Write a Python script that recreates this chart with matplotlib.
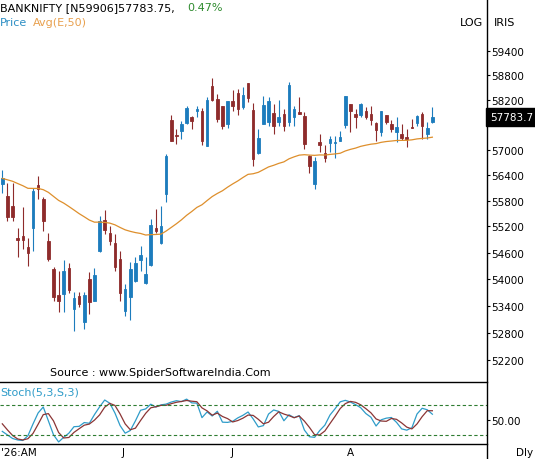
import numpy as np
import matplotlib
matplotlib.use("Agg")
import matplotlib.pyplot as plt
from matplotlib import transforms
from matplotlib.lines import Line2D
from matplotlib.ticker import FixedLocator, NullLocator, FuncFormatter

# ---------------- data ----------------
opens = [56190, 55915, 55680, 54940, 54985, 54720, 55160, 56165, 55835, 54860,
         54230, 53645, 53665, 54250, 53315, 53605, 53045, 54005, 53515, 54640,
         55350, 55040, 54820, 54455, 53275, 53585, 53945, 54440, 53905, 54305,
         55160, 54810, 55955, 57715, 57360, 57455, 57635, 57795, 57935, 57935,
         57095, 58545, 58220, 58045, 57615, 58165, 58365, 58020, 58610, 57955,
         56915, 57615, 57660, 57880, 57660, 57860, 57670, 57780, 57900, 57815,
         56840, 56190, 57175, 56920, 57150, 57150, 57215, 57600, 58095, 57860,
         57840, 57925, 57860, 57640, 57415, 57830, 57615, 57430, 57375, 57310,
         57535, 57635, 57860, 57375, 57660]
highs = [56520, 56205, 56215, 55165, 55655, 54935, 56095, 56370, 55875, 55050,
         54265, 54170, 54430, 54365, 53705, 53705, 53705, 54155, 54250, 55450,
         55580, 55220, 55025, 54640, 53890, 54380, 54490, 54755, 54490, 55375,
         55605, 55665, 56895, 57835, 57495, 57695, 58060, 57815, 58045, 57995,
         58260, 58735, 58340, 58060, 58180, 58445, 58465, 58505, 58615, 58125,
         57495, 58285, 58260, 58100, 58200, 57980, 58645, 58060, 58260, 57900,
         56875, 56820, 57375, 57110, 57335, 57335, 57455, 58305, 58100, 57980,
         58125, 58020, 58060, 57660, 57940, 57835, 57715, 57780, 57615, 57495,
         57735, 57835, 57900, 57660, 58020]
lows = [55980, 55320, 55335, 54490, 54680, 54290, 54640, 55835, 55100, 54415,
        53515, 53255, 53255, 53690, 52840, 53365, 52880, 53215, 53500, 54620,
        55025, 54770, 54175, 53515, 53180, 53090, 53930, 54190, 53890, 54290,
        55050, 54800, 55770, 57200, 57135, 57255, 57620, 57495, 57780, 57110,
        57090, 58165, 57670, 57495, 57520, 57935, 57840, 57980, 58140, 56605,
        56900, 57610, 57575, 57375, 57575, 57455, 57575, 57575, 57850, 57015,
        56450, 56070, 56935, 56715, 56950, 56795, 57210, 57515, 57415, 57515,
        57780, 57735, 57595, 57215, 57335, 57615, 57430, 57175, 57240, 57055,
        57510, 57575, 57255, 57255, 57650]
closes = [56325, 55425, 55425, 54895, 54895, 54580, 56030, 56070, 55335, 54455,
          53590, 53495, 54190, 53740, 53575, 53440, 53630, 53480, 54100, 55335,
          55120, 54870, 54280, 53690, 53765, 54230, 54365, 54545, 54115, 55235,
          55095, 55220, 56840, 57215, 57320, 57615, 58000, 57695, 57980, 57215,
          58195, 58195, 57735, 57575, 58175, 58060, 57980, 58315, 58235, 56780,
          57280, 58075, 58165, 57575, 57795, 57575, 58560, 57980, 57860, 57135,
          56620, 56740, 57120, 56795, 57255, 57190, 57310, 58300, 57935, 57780,
          58100, 57780, 57720, 57480, 57925, 57660, 57495, 57550, 57280, 57255,
          57515, 57800, 57560, 57515, 57783.75]

ema_period = 50
ema_seed = 56320                      # EMA level at the left edge of the chart
stoch_k_warmup = [27, 20, 13, 10, 9]  # first %K values (need bars before the chart)
stoch_d_warmup = [42, 30, 19, 12, 10]

price_ticks = [59400, 58800, 58200, 57000, 56400, 55800, 55200, 54600,
               54000, 53400, 52800, 52200]
month_labels = ["J", "J", "A"]
month_pos = [23.6, 44.8, 68.1]
first_label = "'26:AM"

# ---------------- derived series ----------------
o = np.array(opens, float); h = np.array(highs, float)
l = np.array(lows, float); c = np.array(closes, float)
n = len(c)
idx = np.arange(n)

alpha = 2.0 / (ema_period + 1)
ema = np.empty(n)
prev = ema_seed
for i in range(n):
    prev = prev + alpha * (c[i] - prev)
    ema[i] = prev

fastk = np.empty(n)
for i in range(n):
    lo = l[max(0, i - 4):i + 1].min(); hi = h[max(0, i - 4):i + 1].max()
    fastk[i] = 100 * (c[i] - lo) / (hi - lo) if hi > lo else 50
slowk = np.array([fastk[max(0, i - 2):i + 1].mean() for i in range(n)])
slowk[:len(stoch_k_warmup)] = stoch_k_warmup
slowd = np.array([slowk[max(0, i - 2):i + 1].mean() for i in range(n)])
slowd[:len(stoch_d_warmup)] = stoch_d_warmup

# ---------------- figure ----------------
W, H = 535, 460
fig = plt.figure(figsize=(W / 100, H / 100), dpi=100)
fig.patch.set_facecolor("white")

def fx(px):
    return px / W

def fy(py):
    return 1 - py / H

AX_R = 487
MAIN_B = 382.5
ST_B = 445

ax = fig.add_axes([0, fy(MAIN_B), fx(AX_R), MAIN_B / H])
sx = fig.add_axes([0, fy(ST_B), fx(AX_R), (ST_B - MAIN_B) / H])

BLUE = "#1c7cbd"
RED = "#8e2b2b"
ORANGE = "#de8f2c"

cols = [BLUE if c[i] >= o[i] else RED for i in range(n)]
ax.vlines(idx, l, h, colors=cols, lw=0.8, zorder=2)
ax.bar(idx, np.abs(c - o), bottom=np.minimum(o, c), width=0.5,
       color=cols, edgecolor=cols, linewidth=0.6, zorder=3)
ax.plot(idx, ema, color=ORANGE, lw=0.9, zorder=4)

xlim = (-0.45, 94.67)
ax.set_xlim(*xlim)
ax.set_yscale("log")
ax.set_ylim(51733, 60706)
ax.yaxis.set_major_locator(FixedLocator(price_ticks))
ax.yaxis.set_minor_locator(NullLocator())
ax.yaxis.set_major_formatter(FuncFormatter(lambda v, p: f"{v:.0f}"))
ax.yaxis.tick_right()
ax.tick_params(axis="y", direction="out", length=2.5, width=0.8, pad=0.8,
               labelsize=7.5, colors="black")
ax.set_xticks([])
for s in ax.spines.values():
    s.set_visible(False)

# last price box (the reference shows the value cut to 7 characters)
off = transforms.ScaledTranslation(3.2 / 100, 0, fig.dpi_scale_trans)
tr = transforms.blended_transform_factory(ax.transAxes, ax.transData) + off
ax.text(1.0, c[-1], f"{c[-1]:.2f}"[:7], transform=tr, ha="left", va="center",
        color="white", fontsize=7.5, clip_on=False, zorder=10,
        bbox=dict(boxstyle="square,pad=0.36", fc="black", ec="black"))

# stochastic panel
sx.plot(idx, slowk, color="#2f9cc9", lw=0.9)
sx.plot(idx, slowd, color="#8b3535", lw=0.9)
for lvl in (80, 20):
    sx.axhline(lvl, color="#2f7d32", lw=0.8, dashes=(3, 2.2))
sx.set_xlim(*xlim)
sx.set_ylim(2, 126)
sx.yaxis.tick_right()
sx.set_yticks([50])
sx.set_yticklabels(["50.00"])
sx.tick_params(axis="y", direction="out", length=2.5, width=0.8, pad=0.8,
               labelsize=7.5)
sx.set_xticks(month_pos)
sx.set_xticklabels(month_labels)
sx.tick_params(axis="x", length=0, pad=2.5, labelsize=7.5)
for k in ("left", "right"):
    sx.spines[k].set_visible(False)
for k in ("top", "bottom"):
    sx.spines[k].set_color("black")
    sx.spines[k].set_linewidth(1.0)
sx.set_facecolor("none")

# separator line on the right of the plot area
fig.add_artist(Line2D([fx(AX_R), fx(AX_R)], [0, 1], color="black", lw=1.0,
                      transform=fig.transFigure))

# texts
pct = (c[-1] / c[-2] - 1) * 100
fig.text(fx(0), fy(8), f"BANKNIFTY [N59906]{c[-1]:.2f},", fontsize=8,
         va="center", ha="left", color="black")
fig.text(fx(187), fy(8), f"{pct:.2f}%", fontsize=8, va="center", ha="left",
         color="#2e8b2e")
fig.text(fx(0), fy(23.5), "Price", fontsize=8, va="center", color="#2c8ec4")
fig.text(fx(33), fy(23.5), "Avg(E,50)", fontsize=8, va="center", color="#e8a04e")
fig.text(fx(460), fy(23.5), "LOG", fontsize=8, va="center", color="black")
fig.text(fx(494), fy(23.5), "IRIS", fontsize=8, va="center", color="black")
fig.text(fx(50), fy(373.3), "Source : www.SpiderSoftwareIndia.Com", fontsize=8,
         va="center", color="black")
fig.text(fx(0), fy(392.3), "Stoch(5,3,S,3)", fontsize=8, va="center",
         color="#2f9cc9")
fig.text(fx(1.5), fy(453), first_label, fontsize=7.5, va="center", ha="left",
         color="black")
fig.text(fx(516), fy(453), "Dly", fontsize=7.5, va="center", ha="left",
         color="black")

fig.savefig("out.png", dpi=100)
